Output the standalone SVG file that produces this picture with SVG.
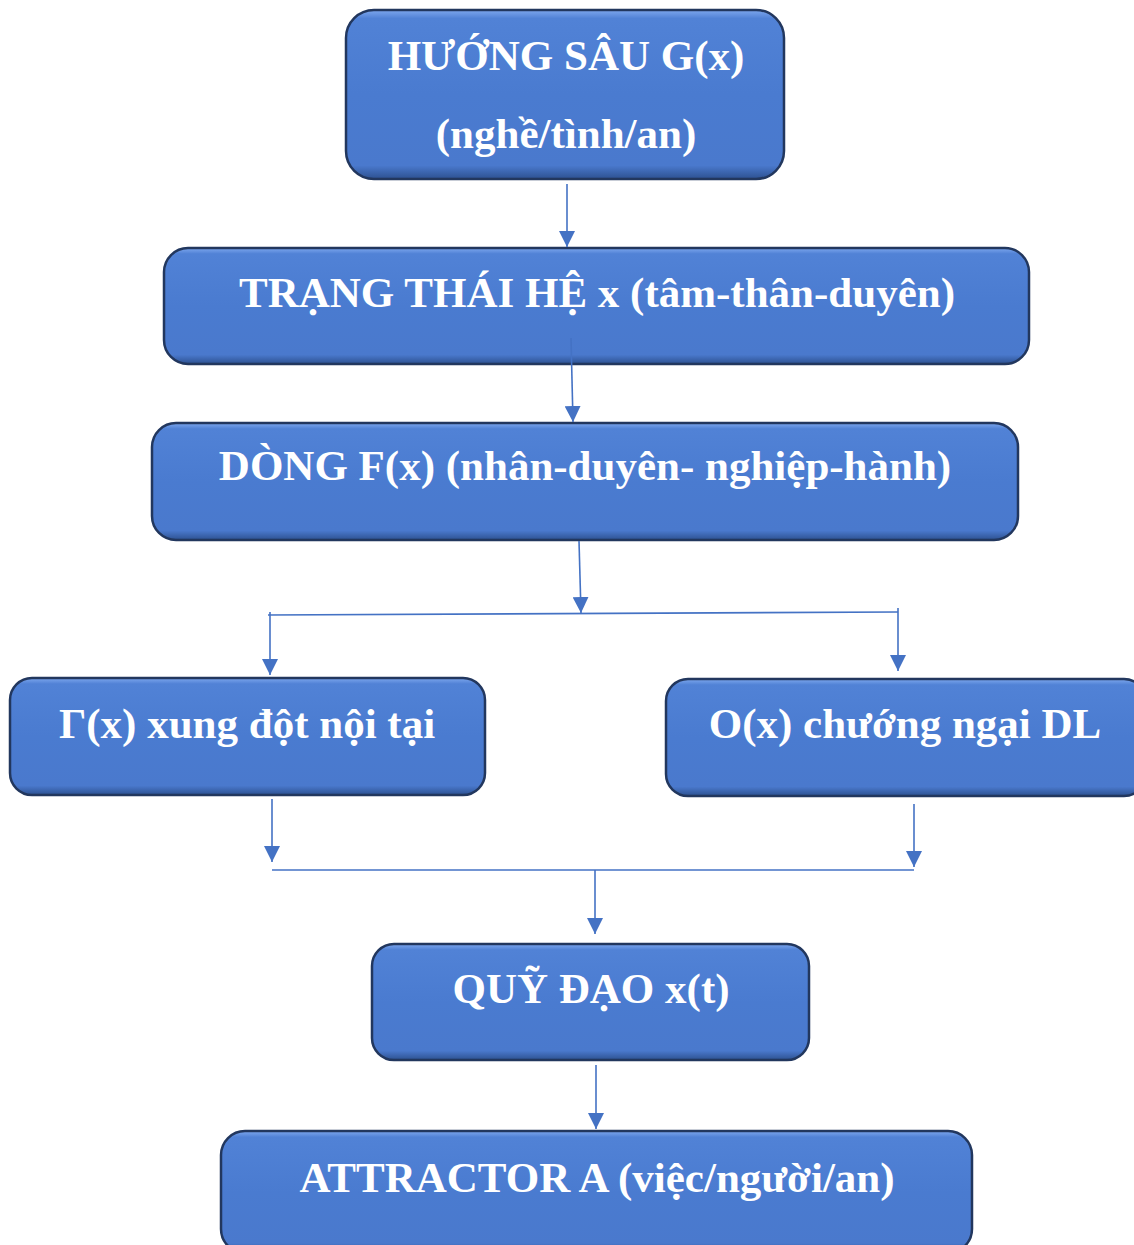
<svg xmlns="http://www.w3.org/2000/svg" width="1134" height="1245" viewBox="0 0 1134 1245">
<defs>
<linearGradient id="bev" x1="0" y1="0" x2="0" y2="1">
<stop offset="0" stop-color="#7ea8ee"/>
<stop offset="0.05" stop-color="#5182d6"/>
<stop offset="0.5" stop-color="#4a7bd0"/>
<stop offset="0.92" stop-color="#4a79cd"/>
<stop offset="1" stop-color="#2d5190"/>
</linearGradient>
<marker id="ah" viewBox="0 0 10 10" refX="10" refY="5" markerWidth="16" markerHeight="16" markerUnits="userSpaceOnUse" orient="auto">
<path d="M0,0 L10,5 L0,10 z" fill="#4472c4"/>
</marker>
<style>
.box{fill:url(#bev);stroke:#22375e;stroke-width:2.5}
.lbl{font-family:"Liberation Serif","Times New Roman",serif;font-weight:bold;font-size:43px;fill:#ffffff;text-anchor:middle}
.con{stroke:#4472c4;stroke-width:1.6;fill:none}
.arr{stroke:#4472c4;stroke-width:1.6;fill:none;marker-end:url(#ah)}
</style>
</defs>
<rect width="1134" height="1245" fill="#ffffff"/>
<g id="n1"><rect class="box" x="346" y="10" width="438" height="169" rx="28"/><text class="lbl" x="566" y="70">HƯỚNG SÂU G(x)</text><text class="lbl" x="566" y="148">(nghề/tình/an)</text></g>
<g id="n2"><rect class="box" x="164" y="248" width="865" height="116" rx="24"/><text class="lbl" x="597" y="307">TRẠNG THÁI HỆ x (tâm-thân-duyên)</text></g>
<g id="n3"><rect class="box" x="152" y="423" width="866" height="117" rx="24"/><text class="lbl" x="585" y="480">DÒNG F(x) (nhân-duyên- nghiệp-hành)</text></g>
<g id="n4"><rect class="box" x="10" y="678" width="475" height="117" rx="22"/><text class="lbl" x="247" y="738">Γ(x) xung đột nội tại</text></g>
<g id="n5"><rect class="box" x="666" y="679" width="480" height="117" rx="22"/><text class="lbl" x="905" y="738">O(x) chướng ngại DL</text></g>
<g id="n6"><rect class="box" x="372" y="944" width="437" height="116" rx="22"/><text class="lbl" x="591" y="1003">QUỸ ĐẠO x(t)</text></g>
<g id="n7"><rect class="box" x="221" y="1131" width="751" height="122" rx="24"/><text class="lbl" x="597" y="1192">ATTRACTOR A (việc/người/an)</text></g>
<g id="connectors">
<line class="arr" x1="567" y1="184" x2="567" y2="247"/>
<line class="arr" x1="571" y1="338" x2="573" y2="422"/>
<line class="arr" x1="579" y1="541" x2="581" y2="613"/>
<line class="con" x1="268" y1="615" x2="898" y2="612"/>
<line class="arr" x1="270" y1="612" x2="270" y2="675"/>
<line class="arr" x1="898" y1="608" x2="898" y2="671"/>
<line class="arr" x1="272" y1="799" x2="272" y2="862"/>
<line class="arr" x1="914" y1="804" x2="914" y2="867"/>
<line class="con" x1="272" y1="870" x2="914" y2="870"/>
<line class="arr" x1="595" y1="870" x2="595" y2="934"/>
<line class="arr" x1="596" y1="1065" x2="596" y2="1129"/>
</g>
</svg>
